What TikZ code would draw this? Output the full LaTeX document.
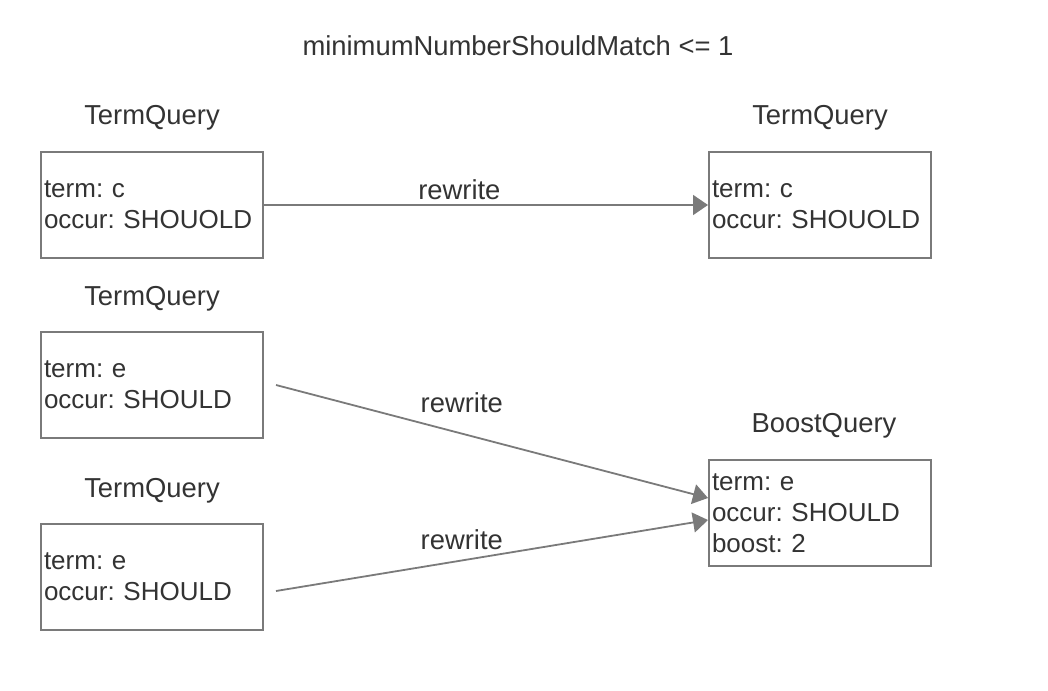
\documentclass[tikz,border=0pt]{standalone}
\usepackage{fontspec}
\setmainfont{Liberation Sans}
\usepackage{xcolor}
\usetikzlibrary{arrows.meta, positioning}
\definecolor{edgegray}{HTML}{7A7A7A}
\definecolor{textgray}{HTML}{333333}
\frenchspacing

\begin{document}
\begin{tikzpicture}[x=0.5pt, y=-0.5pt,
    querybox/.style={rectangle, draw=edgegray, line width=1pt, minimum width=111pt, minimum height=53pt, text width=108pt, inner xsep=1.5pt, align=left, text=textgray, font=\fontsize{13}{15.5}\selectfont},
    querytitle/.style={text=textgray, font=\fontsize{13.7}{16}\selectfont},
    rewriteflow/.style={-{Triangle[length=7.5pt, width=10pt]}, draw=edgegray, line width=0.9pt}]
    \useasboundingbox (0,0) rectangle (1048,690);
    \node[querytitle] (heading) at (518,46) {minimumNumberShouldMatch <= 1};
    % left column
    \node[querybox] (termc) at (152,205) {term: c\\occur: SHOUOLD};
    \node[querybox] (terme) at (152,385) {term: e\\occur: SHOULD};
    \node[querybox] (termedup) at (152,577) {term: e\\occur: SHOULD};
    \node[querytitle] (termctitle) at (152,118) {TermQuery};
    \node[querytitle] (termetitle) at (152,299) {TermQuery};
    \node[querytitle] (termeduptitle) at (152,491) {TermQuery};
    % right column
    \node[querybox] (rewc) at (820,205) {term: c\\occur: SHOUOLD};
    \node[querybox] (boost) at (820,513) {term: e\\occur: SHOULD\\boost: 2};
    \node[querytitle] (rewctitle) at (820,118) {TermQuery};
    \node[querytitle] (boosttitle) at (824,426) {BoostQuery};
    % rewrites
    \draw[rewriteflow] (termc.east) -- (rewc.west) node[querytitle, pos=0.44, yshift=7.5pt] {rewrite};
    \draw[rewriteflow] ([xshift=6pt]terme.east) -- ([yshift=7.5pt]boost.west) node[querytitle, pos=0.43, yshift=15.5pt] {rewrite};
    \draw[rewriteflow] ([xshift=6pt, yshift=-7pt]termedup.east) -- ([yshift=-3.5pt]boost.west) node[querytitle, pos=0.43, yshift=10.25pt] {rewrite};
\end{tikzpicture}
\end{document}
